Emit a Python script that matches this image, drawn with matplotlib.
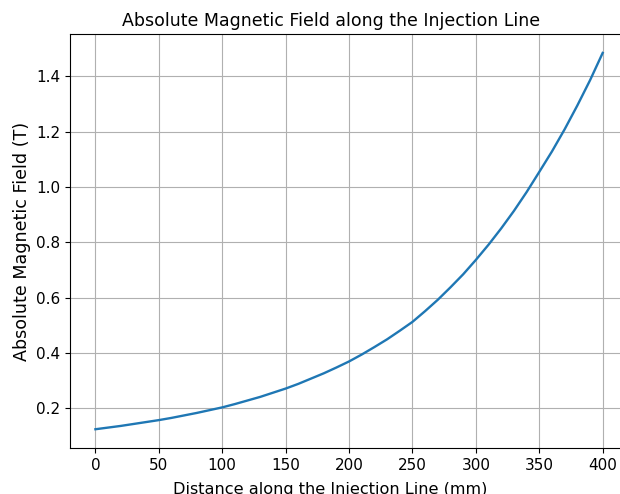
import matplotlib
matplotlib.use("Agg")
import matplotlib.pyplot as plt

# distance along injection line (mm) and absolute field (T)
distance_mm = list(range(0, 401, 10))
field_T = [0.125, 0.131, 0.137, 0.144, 0.151, 0.158, 0.166, 0.175, 0.184, 0.194,
           0.204, 0.216, 0.229, 0.242, 0.257, 0.272, 0.289, 0.308, 0.327, 0.348,
           0.370, 0.395, 0.422, 0.450, 0.481, 0.513, 0.552, 0.593, 0.638, 0.685,
           0.737, 0.792, 0.851, 0.914, 0.982, 1.055, 1.129, 1.209, 1.295, 1.386,
           1.485]

fig = plt.figure(figsize=(6.2, 4.94), dpi=100)
# axes run a little past the right edge, as in the cropped reference
ax = fig.add_axes([0.113, 0.093, 0.90, 0.838])

ax.plot(distance_mm, field_T, color='#1f77b4', linewidth=1.7)

ax.set_title("Absolute Magnetic Field along the Injection Line", fontsize=12.5, x=0.468)
ax.set_xlabel("Distance along the Injection Line (mm)", fontsize=11.6, x=0.466, labelpad=6.5)
ax.set_ylabel("Absolute Magnetic Field (T)", fontsize=12.6)
ax.grid(True)
ax.tick_params(labelsize=11)

fig.savefig("out.png", dpi=100)
